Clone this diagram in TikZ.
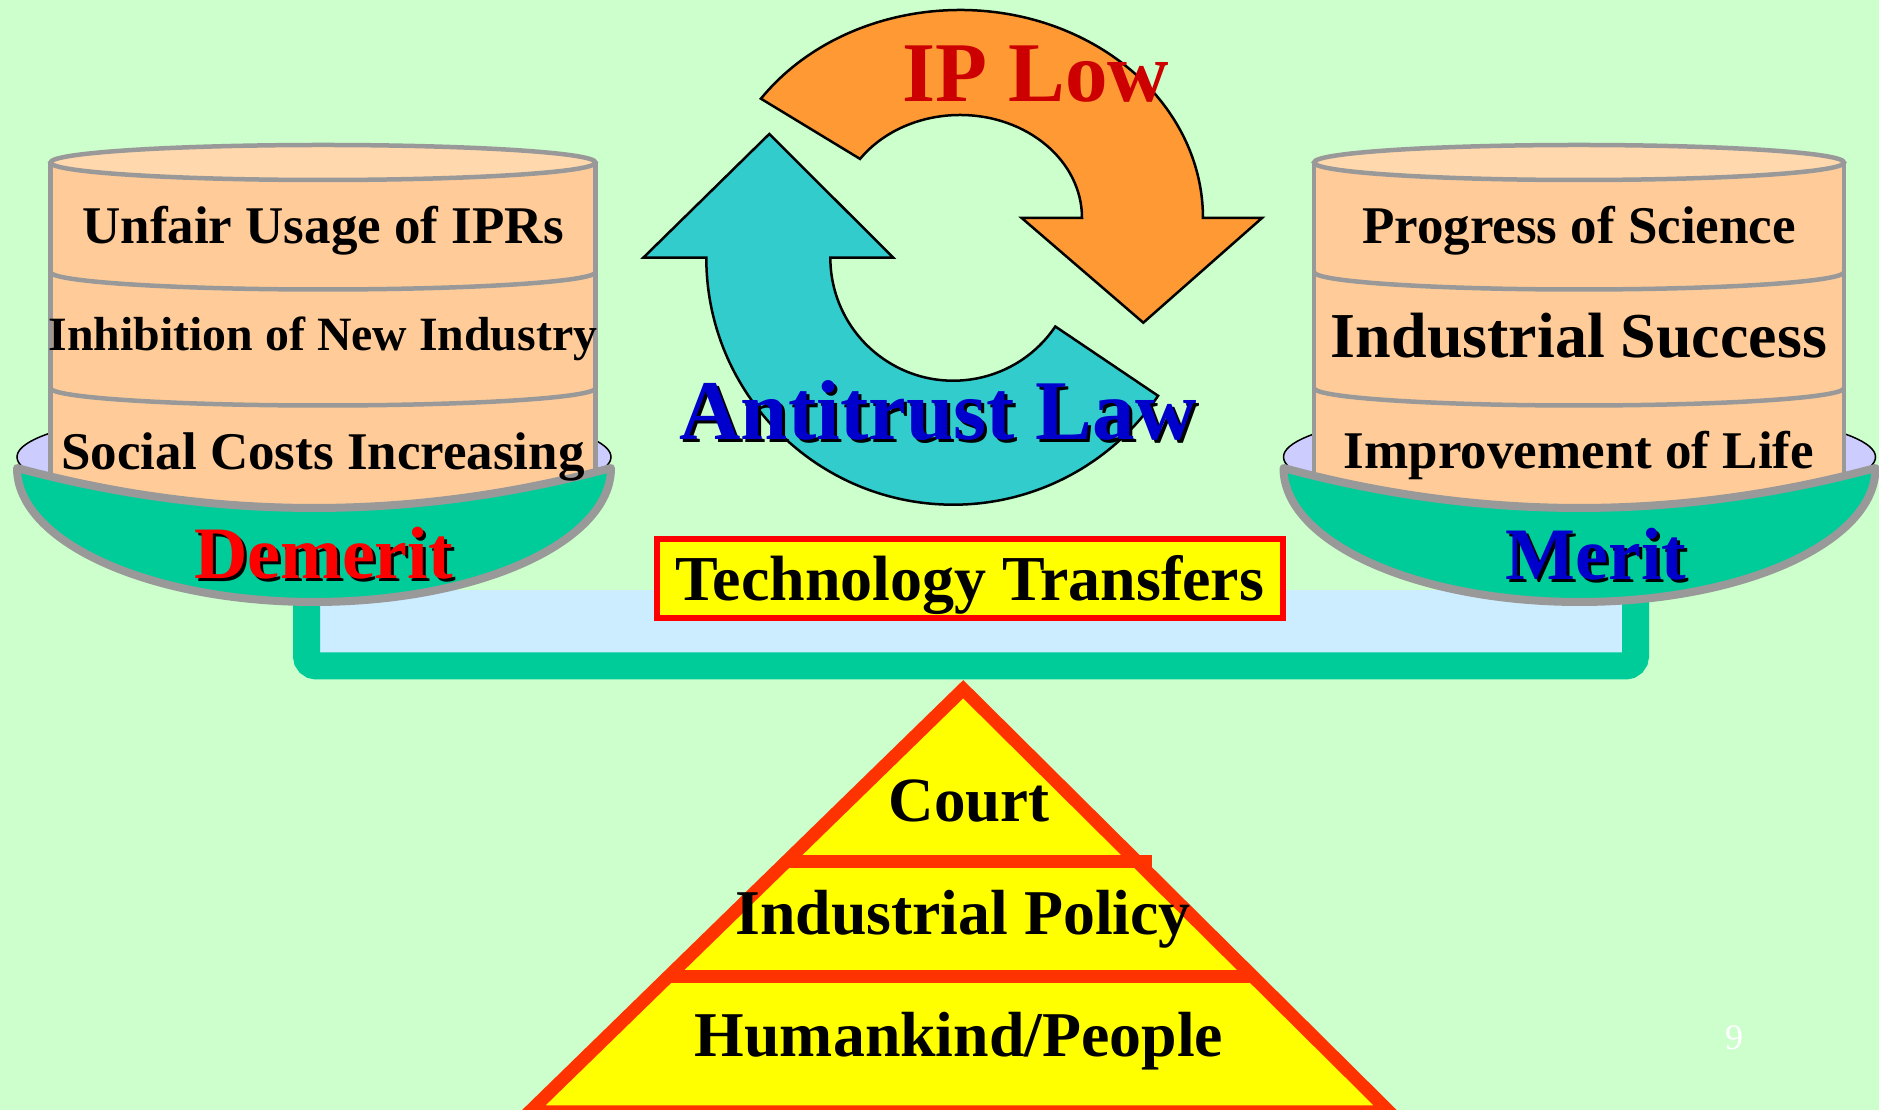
\documentclass[tikz,border=0pt]{standalone}
\usepackage{fontspec}
\setmainfont{Liberation Serif}
\definecolor{bgc}{HTML}{CCFFCC}
\definecolor{peach}{HTML}{FFCC99}
\definecolor{peachtop}{HTML}{FFD8AD}
\definecolor{grayc}{HTML}{999999}
\definecolor{lav}{HTML}{CCCCFF}
\definecolor{panc}{HTML}{00CC99}
\definecolor{beamc}{HTML}{CCECFF}
\definecolor{orc}{HTML}{FF9933}
\definecolor{tlc}{HTML}{33CCCC}
\definecolor{iprc}{HTML}{CC0000}
\definecolor{bluec}{HTML}{0000CC}
\definecolor{redc}{HTML}{FF0000}
\definecolor{yel}{HTML}{FFFF00}
\definecolor{pyrc}{HTML}{FF3300}
\newcommand\fsz[1]{\fontsize{#1pt}{#1pt}\selectfont}
\newcommand\shtext[1]{\makebox[0pt][l]{\kern3pt\raisebox{-3pt}{\color{black}#1}}#1}
\newcommand\drawcyl[2]{%
  \fill[peach] (#1-#2,947.5) -- (#1-#2,615) arc[start angle=180,end angle=360,x radius=#2,y radius=20] -- (#1+#2,947.5) -- cycle;
  \draw[grayline] (#1-#2,600) -- (#1-#2,947.5);
  \draw[grayline] (#1+#2,600) -- (#1+#2,947.5);
  \draw[grayline] (#1-#2,838) arc[start angle=180,end angle=360,x radius=#2,y radius=17.5];
  \draw[grayline] (#1-#2,722) arc[start angle=180,end angle=360,x radius=#2,y radius=17.5];
  \draw[grayline,fill=peachtop] (#1,947.5) ellipse [x radius=#2,y radius=17.5];
}
\newcommand\drawlav[2]{%
  \draw[black,line width=1.5pt,fill=lav] (#1,653) ellipse [x radius=#2,y radius=52];
}
\newcommand\drawpan[2]{%
  \draw[grayc,line width=8pt,fill=panc,line join=round] (#1-#2,642) .. controls (#1-#2/3,588.7) and (#1+#2/3,588.7) .. (#1+#2,642) arc[start angle=0,end angle=-180,x radius=#2,y radius=134] -- cycle;
}
\tikzset{
  grayline/.style={draw=grayc,line width=4.5pt},
  lbl/.style={anchor=base,inner sep=0pt,font=\bfseries},
  arrowline/.style={draw=black,line width=2.5pt,line join=miter},
  pyrline/.style={draw=pyrc,line width=13pt}
}
\begin{document}
\begin{tikzpicture}[x=1pt,y=1pt]
\useasboundingbox (0,0) rectangle (1879,1110);
\fill[bgc] (0,0) rectangle (1879,1110);
\begin{scope}
\clip (0,0) rectangle (1879,1110);
% beam
\fill[beamc] (320,457) rectangle (1622,520);
\draw[panc,line width=27pt,rounded corners=10pt] (306.5,515) -- (306.5,444) -- (1635.5,444) -- (1635.5,515);
% left scale pan
\drawlav{314}{297}
\drawcyl{323}{272.5}
\drawpan{314}{297}
% right scale pan
\drawlav{1579.5}{296}
\drawcyl{1579}{265}
\drawpan{1579.5}{296}
% technology transfers box
\draw[redc,line width=6pt,fill=yel] (657,492.3) rectangle (1283,571.4);
% pyramid
\fill[yel] (963.2,420.8) -- (529.4,-2) -- (1389.5,-2) -- cycle;
\draw[pyrline,line join=miter] (963.2,420.8) -- (529.4,-2) -- (1389.5,-2) -- cycle;
\draw[pyrline] (786.3,248.3) -- (1152,248.3);
\draw[pyrline] (668,133) -- (1253.4,133);
% circular arrows
\draw[arrowline,fill=orc] (760.9,1011.3) arc[start angle=145,end angle=0,x radius=243,y radius=208] -- (1262,892) -- (1143.3,787.3) -- (1021.7,892) -- (1082,892) arc[start angle=0,end angle=145,x radius=122,y radius=103] -- cycle;
\draw[arrowline,fill=tlc] (706.3,852.3) arc[start angle=180,end angle=326,radius=247] -- (1055.3,783.5) arc[start angle=326,end angle=180,radius=123] -- (893.3,852.3) -- (769.3,976) -- (643.3,852.3) -- cycle;
% texts
\node[lbl] (t1) at (323,866.7) {\fsz{53}Unfair Usage of IPRs};
\node[lbl] (t2) at (323,759.3) {\fsz{47.8}Inhibition of New Industry};
\node[lbl] (t3) at (323,640) {\fsz{53}Social Costs Increasing};
\node[lbl] (t4) at (1579,866.7) {\fsz{53}Progress of Science};
\node[lbl] (t5) at (1579,752.3) {\fsz{64}Industrial Success};
\node[lbl] (t6) at (1579,641) {\fsz{53}Improvement of Life};
\node[lbl,text=redc] (dem) at (323.5,531) {\fsz{74}\shtext{Demerit}};
\node[lbl,text=bluec] (mer) at (1596,530) {\fsz{74}\shtext{Merit}};
\node[lbl] (tt) at (970,509) {\fsz{64}Technology Transfers};
\node[lbl] (court) at (969,288.3) {\fsz{63}Court};
\node[lbl] (ipol) at (963,175) {\fsz{63.8}Industrial Policy};
\node[lbl] (hum) at (959,53.3) {\fsz{63.8}Humankind/People};
\node[lbl,text=iprc] (ipl) at (1035.8,1008.3) {\fsz{85}IP Low};
\node[lbl,text=bluec] (atl) at (938,670) {\fsz{85}\shtext{Antitrust Law}};
\node[anchor=base,inner sep=0pt,text=white] (pg) at (1734,60) {\fsz{36}9};
\end{scope}
\end{tikzpicture}
\end{document}
